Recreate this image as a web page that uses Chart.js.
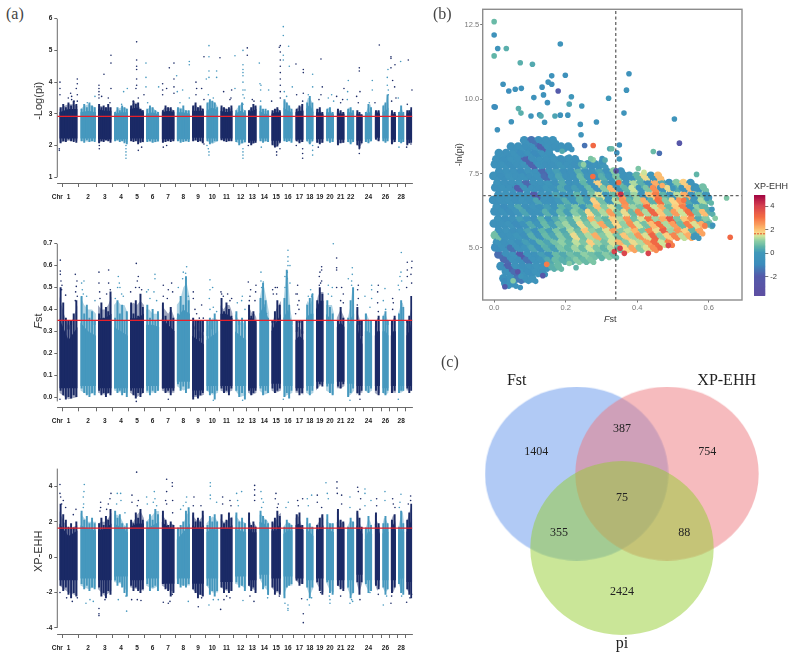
<!DOCTYPE html>
<html>
<head>
<meta charset="utf-8">
<script src="https://cdn.jsdelivr.net/npm/chart.js@4"></script>
<style>
  html, body { margin: 0; padding: 0; background: #fff; }
  body { position: relative; width: 792px; height: 658px; overflow: hidden; }
  .box { position: absolute; }
  .tag { position: absolute; font: 16px "Liberation Serif", serif; color: #444; }
  .lab { position: absolute; font-family: "Liberation Sans", sans-serif; color: #333; white-space: nowrap; }
</style>
</head>
<body>
<div class="box" style="left:28px;top:8px;width:392px;height:200px"><canvas id="piChart"></canvas></div>
<div class="box" style="left:28px;top:233px;width:392px;height:200px"><canvas id="fstChart"></canvas></div>
<div class="box" style="left:28px;top:458px;width:392px;height:200px"><canvas id="xpChart"></canvas></div>
<div class="box" style="left:440px;top:0;width:310px;height:330px"><canvas id="scatterChart"></canvas></div>
<div class="box" style="left:745px;top:185px;width:47px;height:125px"><canvas id="barChart"></canvas></div>
<div class="box" style="left:440px;top:340px;width:352px;height:318px"><canvas id="vennChart"></canvas></div>

<div class="tag" style="left:6px;top:5px">(a)</div>
<div class="tag" style="left:433px;top:5px">(b)</div>
<div class="tag" style="left:441px;top:353px">(c)</div>
<div class="lab" style="left:30px;top:315px;font-size:11px;transform:rotate(-90deg)"><i>F</i>st</div>
<div class="lab" style="left:604px;top:314px;font-size:9px"><i>F</i>st</div>
<div class="lab" style="left:754px;top:181px;font-size:9px">XP-EHH</div>

<script>
// chromosomes, position along the genome axis
const chrNames = ['1','2','3','4','5','6','7','8','9','10','11','12','13','14','15','16','17','18','19','20','21','22','','24','','26','','28',''];
const chrStart = [6,69,122,170,218,266,313,358,404,447,489,533,572,606,642,678,714,746,776,806,838,869,897,922,952,975,1000,1022,1047];
const chrEnd = [61,116,163,212,260,306,352,398,440,483,526,567,598,636,671,706,739,769,799,830,862,891,916,945,968,994,1016,1041,1065];

// -Log(pi)
const piTicks = [1,2,3,4,5,6];
const piCut = 2.92;
const piOuterTop = [[3.15,3.25,3.3,3.3,3.25],[3.15,3.25,3.3,3.25,3.2],[3.25,3.25,3.2,3.2,3.2],[3.05,3.15,3.2,3.2,3.15],[3.2,3.35,3.35,3.15,3.1],[3.1,3.2,3.2,3.1,3.05],[3.1,3.2,3.2,3.15,3.1],[3.15,3.2,3.15,3.1,3.1],[3.2,3.3,3.2,3.2,3.15],[3.3,3.4,3.4,3.35,3.2],[3.2,3.2,3.15,3.15,3.2],[3.1,3.2,3.3,3.15,3.05],[3.1,3.15,3.2,3.25,3.2],[3.2,3.15,3.1,3.1,3.05],[3.05,3.1,3.15,3.15,3.05],[3.4,3.4,3.3,3.2,3.1],[3.1,3.2,3.2,3.25,3.1],[3.3,3.5,3.5,3.4,3.1],[3.1,3.15,3.15,3.05,3.0],[3.1,3.2,3.15,3.05,3.0],[3.1,3.1,3.05,3.05,3.0],[3.1,3.2,3.15,3.1,3.05],[3.05,3.05,3.0,3.0,2.95],[3.0,3.1,3.25,3.3,3.1],[3.05,3.1,3.1,3.1,3.05],[3.2,3.3,3.3,3.6,3.3],[3.05,3.05,3.05,3.0,3.0],[3.0,3.1,3.2,3.1,3.0],[3.05,3.1,3.1,3.15,3.1]];
const piCoreTop = [[3.05,3.15,3.15],[3.05,3.1,3.05],[3.15,3.1,3.1],[3.0,3.05,3.05],[3.15,3.2,3.05],[3.0,3.05,2.98],[3.05,3.1,3.05],[3.05,3.05,3.0],[3.1,3.1,3.1],[3.1,3.2,3.1],[3.1,3.05,3.1],[3.0,3.1,3.0],[3.05,3.1,3.15],[3.1,3.0,3.0],[3.0,3.05,3.05],[3.2,3.1,3.05],[3.05,3.1,3.1],[3.15,3.3,3.05],[3.05,3.05,2.98],[3.05,3.05,2.98],[3.05,3.0,3.0],[3.05,3.05,3.0],[3.0,2.98,2.95],[2.95,3.05,3.05],[3.0,3.05,3.0],[3.05,3.1,3.2],[3.0,3.0,2.98],[2.95,3.05,2.98],[3.0,3.05,3.05]];
const piOuterBot = [[2.1,2.15,2.15],[2.15,2.12,2.15],[2.1,2.15,2.15],[2.15,2.15,2.1],[2.15,2.15,2.1],[2.15,2.1,2.12],[2.1,2.15,2.15],[2.15,2.12,2.15],[2.15,2.15,2.1],[2.15,2.05,2.15],[2.18,2.15,2.15],[2.12,2.05,2.1],[2.1,2.05,2.1],[2.15,2.12,2.15],[2.05,1.95,2.1],[2.15,2.15,2.12],[2.15,2.1,2.12],[2.15,2.05,2.15],[2.1,2.08,2.1],[2.15,2.12,2.12],[2.05,2.08,2.1],[2.12,2.08,2.12],[2.05,1.95,2.08],[2.12,2.1,2.15],[2.2,2.15,2.18],[2.15,2.12,2.15],[2.08,2.1,2.12],[2.12,2.1,2.12],[2.05,2.08,2.1]];
const piCoreBot = [2.22,2.22,2.2,2.2,2.22,2.2,2.2,2.2,2.25,2.22,2.22,2.18,2.15,2.22,2.15,2.22,2.18,2.2,2.2,2.22,2.18,2.2,2.15,2.2,2.25,2.22,2.18,2.2,2.18];
const piColTop = [[3.2,3.3,3.2,3.35,3.25,3.4,3.3],[3.15,3.3,3.2,3.35,3.25,3.2],[3.3,3.2,3.25,3.2,3.3,3.2],[3.05,3.2,3.1,3.25,3.2,3.15],[3.25,3.4,3.3,3.35,3.15,3.1],[3.15,3.25,3.2,3.1,3.05],[3.1,3.25,3.2,3.2,3.1],[3.2,3.15,3.25,3.1,3.1],[3.25,3.35,3.2,3.25,3.15],[3.35,3.45,3.4,3.35,3.2],[3.25,3.2,3.15,3.2,3.25],[3.1,3.25,3.35,3.1],[3.1,3.2,3.3,3.25],[3.25,3.15,3.15,3.1],[3.1,3.15,3.2,3.1],[3.45,3.35,3.25,3.15],[3.15,3.25,3.3],[3.35,3.55,3.35],[3.15,3.2,3.05],[3.15,3.2,3.05],[3.15,3.1,3.05],[3.15,3.2,3.1],[3.1,3.05,2.98],[3.05,3.3,3.2],[3.1,3.1],[3.25,3.35,3.6],[3.1,3.05],[3.05,3.25,3.05],[3.1,3.1,3.2]];
const piColBot = [[2.08,2.15,2.12,2.2,2.15,2.12,2.1],[2.15,2.1,2.18,2.12,2.15,2.12],[2.08,2.15,2.12,2.18,2.15,2.1],[2.15,2.18,2.12,2.15,2.08,2.05],[2.15,2.12,2.15,2.05,2.1,2.12],[2.12,2.15,2.1,2.12,2.15],[2.1,2.12,2.15,2.12,2.15],[2.15,2.1,2.12,2.15,2.12],[2.15,2.18,2.12,2.15,2.08],[2.15,2.05,2.1,2.15,2.15],[2.18,2.15,2.12,2.15,2.15],[2.12,2.02,2.08,2.12],[2.1,2.02,2.08,2.1],[2.15,2.1,2.15,2.12],[2.02,1.95,1.98,2.1],[2.15,2.12,2.15,2.1],[2.15,2.08,2.12],[2.15,2.05,2.15],[2.1,2.05,2.1],[2.15,2.1,2.12],[2.02,2.08,2.1],[2.12,2.05,2.12],[2.02,1.92,2.08],[2.12,2.08,2.15],[2.2,2.15],[2.15,2.1,2.15],[2.05,2.12],[2.12,2.08,2.12],[2.02,2.08,2.1]];
const piOutliers = [[8,4.0],[8,3.8],[8,3.6],[6,1.85],[6,1.9],[60,4.1],[60,3.95],[57,3.8],[60,3.6],[40,3.65],[43,3.55],[33,3.5],[43,3.45],[50,3.4],[60,3.4],[113,3.55],[90,3.35],[125,3.9],[125,3.8],[125,3.7],[125,3.6],[125,3.5],[140,4.25],[161,4.85],[161,4.6],[161,3.8],[133,3.55],[153,3.5],[158,3.35],[126,1.9],[126,2.0],[199,3.7],[210,3.8],[193,3.3],[206,1.6],[206,1.7],[206,1.8],[206,1.9],[206,2.0],[238,5.27],[238,4.7],[238,4.5],[238,4.4],[238,4.1],[238,3.9],[236,3.8],[260,3.6],[228,3.4],[243,3.5],[243,1.85],[253,1.95],[266,4.6],[266,4.15],[266,3.85],[304,3.85],[271,3.35],[316,3.95],[316,3.75],[316,3.6],[336,4.45],[350,4.6],[350,4.1],[350,3.85],[350,3.65],[358,4.2],[328,3.8],[318,1.95],[328,2.0],[396,4.65],[396,4.55],[376,3.75],[360,3.7],[396,3.5],[368,3.35],[440,4.8],[416,4.0],[418,3.8],[416,3.6],[433,3.8],[440,3.45],[440,2.05],[455,5.15],[455,4.8],[455,4.35],[455,4.15],[478,4.35],[478,4.15],[447,4.1],[453,3.6],[468,3.5],[455,1.7],[455,1.8],[453,1.9],[449,2.0],[488,4.77],[499,3.7],[523,3.75],[521,3.5],[518,3.45],[533,4.83],[557,5.0],[557,4.55],[557,4.4],[557,4.3],[557,4.2],[557,4.0],[557,3.75],[557,3.6],[563,3.75],[561,3.5],[533,3.8],[570,4.85],[570,5.08],[557,1.6],[557,1.7],[557,1.8],[557,1.9],[573,2.0],[557,3.3],[585,3.45],[590,3.4],[606,4.6],[608,3.95],[611,3.9],[610,3.75],[634,3.75],[610,3.4],[612,1.95],[669,5.15],[666,5.1],[669,4.95],[669,4.7],[669,4.5],[669,4.3],[669,4.1],[669,3.9],[669,3.7],[669,3.5],[643,3.4],[658,1.7],[658,1.8],[668,1.9],[678,5.75],[678,5.47],[678,4.85],[678,4.7],[694,5.13],[696,4.5],[705,3.85],[681,3.7],[688,3.55],[716,4.57],[718,3.6],[738,4.4],[738,4.3],[738,3.65],[736,3.4],[736,1.6],[736,1.75],[736,1.9],[717,2.0],[766,4.25],[766,3.85],[753,3.6],[766,1.7],[766,1.85],[766,2.0],[791,4.73],[795,3.85],[791,3.6],[785,3.45],[783,1.95],[823,3.6],[813,3.5],[829,3.4],[838,3.55],[860,3.8],[856,3.45],[850,3.35],[873,4.05],[871,3.7],[870,3.45],[906,4.45],[906,4.35],[898,3.55],[908,3.7],[903,3.35],[906,1.75],[906,1.9],[945,4.05],[945,3.75],[936,3.35],[966,5.17],[953,3.35],[992,4.4],[990,4.15],[990,3.9],[993,3.75],[993,3.6],[1001,4.8],[1001,4.75],[1001,4.45],[1006,4.05],[1013,4.55],[1012,3.85],[1003,3.4],[1016,3.5],[1030,4.65],[1023,3.5],[1025,1.95],[1053,4.7],[1064,3.75],[1050,3.3],[1048,1.95],[1061,2.05]];

// Fst
const fstTicks = [0,0.1,0.2,0.3,0.4,0.5,0.6,0.7];
const fstCut = 0.35;
const fstOuterTop = [[.46,.38,.32,.36,.42],[.46,.42,.4,.4,.38],[.42,.4,.4,.42,.46],[.42,.44,.42,.42,.38],[.42,.43,.42,.44,.42],[.4,.4,.38,.38,.38],[.42,.4,.38,.4,.36],[.42,.44,.5,.52,.45],[.34,.32,.3,.3,.28],[.3,.34,.36,.36,.35],[.42,.4,.42,.42,.38],[.38,.36,.34,.34,.32],[.4,.4,.38,.38,.36],[.44,.5,.5,.44,.38],[.32,.36,.4,.42,.44],[.42,.55,.55,.4,.34],[.3,.32,.32,.3,.3],[.42,.44,.42,.44,.46],[.42,.46,.48,.48,.48],[.42,.42,.42,.42,.38],[.36,.38,.4,.38,.36],[.35,.38,.42,.5,.42],[.4,.38,.36,.3,.28],[.38,.38,.36,.34,.34],[.32,.34,.36,.36,.34],[.36,.38,.38,.36,.34],[.34,.34,.36,.36,.36],[.38,.4,.43,.43,.4],[.32,.34,.36,.4,.44]];
const fstCoreTop = [[.36,.26,.32],[.34,.3,.28],[.36,.36,.38],[.32,.3,.28],[.36,.36,.38],[.33,.33,.32],[.36,.33,.3],[.36,.4,.38],[.28,.26,.24],[.26,.28,.3],[.38,.38,.36],[.3,.28,.26],[.36,.36,.34],[.38,.42,.34],[.3,.34,.38],[.36,.4,.32],[.26,.28,.26],[.36,.38,.38],[.4,.44,.44],[.38,.36,.34],[.32,.34,.32],[.3,.36,.38],[.34,.28,.24],[.3,.3,.28],[.28,.3,.3],[.3,.3,.28],[.28,.3,.3],[.3,.36,.34],[.28,.3,.36]];
const fstOuterBot = [[.02,-.01,0],[.03,.01,.02],[.02,.01,.02],[.03,.02,.02],[.02,0,.02],[.02,.02,.03],[.03,.02,.02],[.05,.03,.04],[0,0,.01],[.03,.01,.02],[.03,.02,.03],[.03,0,.01],[.02,.01,.02],[.03,.01,.02],[.03,.02,.03],[0,.01,.02],[.02,.02,.01],[.02,.01,.02],[.03,.05,.06],[.03,.02,.01],[.04,.04,.05],[0,.01,.03],[.01,.02,.02],[.03,.02,.03],[.02,.01,.02],[.02,.01,.02],[.02,.02,.02],[.02,.02,.03],[.03,.03,.03]];
const fstCoreBot = [.04,.05,.04,.04,.04,.05,.04,.07,.03,.05,.05,.05,.04,.05,.06,.05,.04,.05,.07,.06,.07,.06,.05,.05,.05,.04,.05,.05,.05];
const fstColTop = [[.5,.43,.36,.31,.33,.38,.44],[.46,.38,.42,.36,.39,.33],[.38,.43,.36,.41,.39,.48],[.36,.44,.38,.42,.35,.39],[.43,.38,.44,.37,.47,.41],[.42,.36,.4,.35,.39],[.43,.37,.33,.41,.36],[.38,.46,.42,.55,.44],[.36,.31,.34,.27,.3],[.28,.36,.31,.38,.35],[.45,.39,.43,.4,.37],[.39,.33,.36,.31],[.42,.37,.39,.35],[.45,.52,.44,.36],[.34,.39,.44,.42],[.45,.58,.42,.33],[.3,.34,.29],[.42,.45,.47],[.44,.5,.47],[.44,.41,.38],[.35,.41,.36],[.36,.44,.5],[.41,.33,.28],[.38,.35,.33],[.32,.37],[.37,.39,.33],[.33,.37],[.38,.44,.41],[.34,.37,.46]];
const fstColBot = [[.03,.01,-.01,0,-.005,.01,0],[.04,.02,.01,0,.02,.01],[.03,.01,.02,0,.02,.01],[.04,.02,.03,.01,.02,0],[.03,.01,-.005,.02,0,.02],[.03,.01,.03,.02,.03],[.04,.02,.03,.01,.03],[.06,.03,.05,.02,.04],[-.01,.01,-.005,.01,.02],[.03,.01,.02,-.01,.03],[.04,.02,.03,.01,.04],[.03,0,.02,-.01],[.03,.01,.02,.03],[.04,.01,.03,.02],[.04,.02,.03,.04],[0,.02,-.005,.03],[.03,.01,.02],[.03,.01,.03],[.04,.06,.05],[.05,.02,.01],[.05,.04,.06],[0,.02,.04],[.02,.01,.03],[.03,.02,.04],[.03,.01],[.02,.01,.03],[.02,.03],[.02,.03,.03],[.04,.02,.03]];
const fstOutliers = [[9,.625],[9,.575],[9,.56],[11,.53],[14,.51],[13,.49],[25,.465],[54,.56],[59,.53],[57,.505],[55,.48],[60,.46],[54,.44],[80,.53],[73,.52],[75,.49],[88,.46],[78,.47],[113,.44],[125,.57],[125,.52],[127,.48],[154,.58],[154,.52],[159,.49],[148,.47],[128,.45],[183,.55],[181,.5],[188,.5],[193,.47],[198,.46],[174,.45],[186,.52],[237,.61],[243,.55],[240,.53],[220,.48],[235,.5],[246,.5],[253,.49],[293,.56],[293,.54],[273,.49],[268,.48],[290,.48],[278,.45],[298,.44],[318,.51],[343,.52],[333,.49],[346,.48],[318,.46],[330,.45],[388,.595],[378,.57],[385,.565],[363,.5],[376,.54],[386,.54],[393,.46],[408,.48],[408,.45],[433,.42],[413,.4],[418,.38],[438,.36],[426,.36],[458,.535],[466,.5],[458,.49],[456,.45],[468,.41],[478,.39],[458,.4],[491,.48],[493,.47],[511,.47],[518,.44],[498,.46],[523,.45],[555,.46],[553,.44],[540,.43],[563,.4],[573,.525],[596,.51],[580,.49],[578,.46],[595,.48],[576,.44],[593,.44],[611,.57],[611,.53],[618,.525],[613,.5],[623,.42],[628,.38],[646,.49],[654,.5],[660,.5],[648,.47],[658,.47],[692,.67],[692,.64],[692,.62],[692,.6],[698,.6],[683,.55],[690,.57],[683,.5],[698,.52],[690,.54],[721,.51],[716,.47],[720,.47],[725,.44],[721,.42],[725,.4],[715,.38],[760,.49],[763,.46],[753,.46],[766,.47],[793,.595],[793,.58],[788,.57],[786,.55],[793,.53],[786,.51],[790,.52],[828,.7],[813,.51],[825,.5],[813,.47],[823,.46],[838,.635],[838,.59],[838,.58],[838,.5],[853,.5],[858,.47],[850,.44],[858,.43],[885,.59],[885,.56],[883,.53],[873,.54],[883,.51],[903,.51],[901,.49],[903,.45],[900,.42],[943,.51],[943,.49],[923,.46],[943,.45],[938,.41],[963,.51],[961,.48],[961,.43],[963,.39],[983,.495],[978,.44],[985,.4],[1006,.45],[1008,.43],[1006,.4],[1032,.66],[1031,.57],[1028,.55],[1023,.51],[1033,.53],[1026,.49],[1050,.615],[1050,.58],[1050,.55],[1064,.62],[1063,.59],[1061,.56],[1048,.5],[1063,.52],[237,-.02],[333,-.01],[468,-.015],[556,-.015],[678,-.01],[878,-.015],[908,-.01],[1023,-.01],[8,-.01]];

// XP-EHH
const xpTicks = [-4,-2,0,2,4];
const xpCut = 1.64;
const xpOuterTop = [[2.6,2.0,1.6,1.7,1.8],[2.5,2.2,2.0,2.0,2.0],[1.9,2,2,2.2,2.5],[2.4,2.4,2.2,1.8,1.7],[2.0,2.0,2.4,2.6,2.2],[2.0,2.2,2.4,2.6,2.6],[2.4,2.2,1.8,1.9,1.8],[1.5,1.6,1.9,2.4,2.6],[2.4,2.2,2.0,2.2,2.4],[1.9,2.1,2.3,2.2,2.0],[2.2,2.0,2.0,2.2,2.3],[2.4,2.2,2.0,2.0,1.9],[2.3,2.0,1.7,1.9,1.7],[2.4,2.4,2.2,2.1,1.9],[2.0,1.9,2.1,2.4,2.5],[1.7,1.9,2.0,1.9,1.8],[2.2,2.4,2.2,1.8,1.8],[2.0,1.9,1.8,1.7,1.6],[1.8,1.9,2.1,2.4,2.2],[2.2,2.0,1.9,1.9,1.9],[2.6,2.2,1.9,2.0,1.9],[1.7,1.9,2.1,2.0,1.9],[2.5,2.6,2.0,1.7,1.6],[1.5,1.8,2.2,2.0,1.7],[2.4,2.2,2.0,1.8,1.7],[1.8,2.2,2.2,2.0,1.8],[2.0,2.2,2.4,2.2,1.8],[1.6,2.0,2.4,2.6,1.7],[2.0,2.2,2.5,2.8,2.9]];
const xpCoreTop = [[1.9,1.2,1.5],[1.8,1.6,1.5],[1.5,1.6,1.9],[1.9,1.7,1.4],[1.7,1.9,1.9],[1.6,1.8,2.0],[2.0,1.7,1.6],[1.0,1.4,1.9],[1.8,1.6,1.8],[1.4,1.6,1.5],[1.7,1.6,1.8],[1.6,1.5,1.4],[1.7,1.4,1.4],[2.0,1.9,1.5],[1.5,1.5,2.0],[1.3,1.5,1.5],[1.8,1.9,1.5],[1.6,1.4,1.2],[1.5,1.6,1.8],[1.7,1.5,1.4],[2.0,1.6,1.6],[1.4,1.7,1.5],[1.8,1.6,1.3],[1.0,1.5,1.3],[1.9,1.7,1.3],[1.3,1.7,1.4],[1.7,1.9,1.5],[1.2,1.6,1.4],[1.4,1.8,2.2]];
const xpOuterBot = [[-1.6,-2.0,-2.2],[-1.6,-1.8,-1.7],[-1.8,-2.2,-1.9],[-1.4,-1.5,-2.0],[-1.7,-1.8,-1.9],[-1.6,-1.8,-1.6],[-1.6,-1.8,-2.0],[-1.5,-1.6,-1.6],[-1.8,-2.1,-2.2],[-1.6,-2.0,-2.0],[-1.7,-1.9,-1.9],[-1.5,-1.6,-1.8],[-1.6,-1.8,-1.9],[-1.2,-1.7,-2.0],[-1.7,-2.0,-2.0],[-2.2,-1.6,-1.6],[-1.3,-1.5,-1.5],[-1.6,-2.2,-1.7],[-1.4,-1.8,-2.0],[-1.4,-1.9,-2.0],[-1.6,-1.7,-1.8],[-1.7,-2.2,-2.0],[-1.4,-2.0,-1.4],[-1.5,-1.9,-1.9],[-1.5,-1.9,-1.6],[-1.7,-2.0,-1.8],[-1.8,-2.0,-1.6],[-1.4,-1.9,-2.0],[-1.8,-2.0,-2.2]];
const xpCoreBot = [-1.3,-1.2,-1.3,-1.1,-1.3,-1.2,-1.5,-1.2,-1.5,-1.2,-1.4,-1.1,-1.3,-1.0,-1.2,-1.1,-1.2,-1.3,-1.2,-1.3,-1.3,-1.3,-1.0,-1.3,-1.3,-1.3,-1.3,-1.2,-1.4];
const xpColTop = [[3,2.4,2.1,1.7,1.9,1.6,2.0],[2.6,2.1,2.3,1.9,2.2,1.9],[1.9,2.2,1.8,2.3,2.1,2.7],[2.6,2.2,2.4,1.9,1.7,1.9],[2.1,1.9,2.5,2.2,2.7,2.1],[2.0,2.4,2.1,2.7,2.4],[2.6,2.1,1.8,2.0,1.8],[1.5,1.8,2.0,2.6,2.8],[2.5,2.0,2.2,2.0,2.6],[1.8,2.3,2.0,2.4,2.0],[2.4,1.9,2.1,2.5,2.2],[2.5,2.0,2.2,1.9],[2.5,1.8,2.0,1.7],[2.6,2.3,2.1,1.9],[2.0,2.2,2.6,2.3],[1.7,2.1,1.9,1.8],[2.4,2.5,1.8],[2.2,1.9,1.7],[1.8,2.2,2.4],[2.4,1.9,1.9],[2.7,2.1,2.0],[1.7,2.2,2.0],[2.6,2.2,1.7],[1.6,2.3,1.8],[2.5,1.9],[1.9,2.3,1.9],[2.1,2.4],[1.7,2.6,1.9],[2.1,2.5,3.0]];
const xpColBot = [[-1.6,-1.9,-1.7,-2.1,-2.3,-2.0,-2.2],[-1.5,-1.8,-1.6,-1.9,-1.7,-1.8],[-1.7,-2.2,-2.0,-2.3,-1.9,-2.1],[-1.3,-1.6,-1.4,-1.7,-2.0,-2.2],[-1.6,-1.9,-1.7,-1.9,-2.0,-1.8],[-1.5,-1.9,-1.7,-1.6,-1.9],[-1.5,-1.8,-1.9,-2.2,-2.0],[-1.5,-1.7,-1.6,-1.7,-1.5],[-1.8,-2.0,-2.3,-2.1,-2.2],[-1.6,-2.1,-1.9,-2.2,-1.9],[-1.7,-2.0,-1.8,-2.0,-1.9],[-1.4,-1.7,-1.6,-1.9],[-1.6,-1.9,-1.7,-2.0],[-1.2,-1.8,-1.6,-2.1],[-1.7,-2.1,-1.9,-2.1],[-2.3,-1.7,-1.6,-1.5],[-1.3,-1.6,-1.5],[-1.7,-2.3,-1.7],[-1.4,-1.9,-2.1],[-1.4,-2.0,-2.1],[-1.6,-1.8,-1.9],[-1.7,-2.3,-2.0],[-1.4,-2.1,-1.4],[-1.5,-2.0,-1.9],[-1.6,-1.8],[-1.7,-2.1,-1.8],[-2.0,-1.7],[-1.5,-2.0,-2.1],[-1.8,-2.1,-2.3]];
const xpOutliers = [[8,4.1],[8,3.6],[10,3.4],[18,3.2],[13,3.0],[25,2.8],[56,2.7],[48,2.4],[8,-2.0],[28,-2.3],[45,-2.5],[60,-2.3],[81,4.1],[80,3.7],[78,3.4],[79,3.0],[78,2.8],[86,-2.6],[98,-2.4],[108,-2.5],[130,3.1],[130,2.8],[128,2.6],[161,3.6],[158,3.3],[153,3.0],[148,2.7],[125,-2.9],[125,-3.2],[125,-3.3],[143,-2.4],[180,3.6],[190,3.6],[191,3.2],[178,3.0],[203,2.5],[208,-3.05],[183,-2.4],[206,-2.2],[238,4.8],[224,3.5],[224,3.1],[243,3.2],[240,2.9],[223,-2.4],[240,-2.4],[251,-2.45],[268,3.4],[291,3.7],[293,3.3],[270,3.0],[288,3.1],[298,2.9],[328,4.4],[345,4.2],[345,4.0],[328,3.7],[325,3.2],[328,3.0],[346,3.2],[346,2.5],[318,-2.55],[345,-2.1],[338,-2.5],[333,-2.6],[388,3.4],[386,3.1],[370,2.7],[378,2.9],[393,-2.5],[410,3.4],[408,2.9],[431,2.9],[423,-2.8],[433,-2.3],[459,4.2],[459,4.0],[459,3.5],[459,3.3],[478,3.1],[455,-2.7],[468,-2.4],[483,-2.4],[496,3.4],[496,3.0],[518,3.2],[521,2.9],[490,-2.95],[500,-2.4],[518,-2.3],[508,-2.2],[538,3.6],[553,3.7],[541,3.2],[543,2.9],[557,-2.45],[592,4.05],[592,3.8],[592,3.5],[592,3.2],[590,-2.5],[578,-2.2],[611,3.7],[613,3.3],[618,3.1],[613,2.8],[631,-2.3],[633,-2.1],[656,3.6],[654,3.3],[663,3.0],[660,2.8],[666,-2.2],[693,3.1],[686,2.8],[683,-2.6],[692,-2.7],[692,-2.9],[692,-3.0],[721,3.2],[736,3.3],[723,2.9],[733,-2.35],[738,-3.2],[738,-3.7],[763,3.5],[750,3.3],[753,2.9],[756,-2.7],[763,-2.3],[750,-2.4],[780,3.5],[780,3.1],[793,2.8],[790,-2.0],[806,4.2],[810,3.6],[813,3.3],[818,-2.4],[818,-2.6],[816,-2.2],[839,4.25],[839,3.9],[840,3.6],[853,3.5],[853,3.0],[850,-2.2],[878,3.4],[878,2.8],[883,-2.4],[878,-2.6],[886,-2.5],[901,3.95],[903,3.7],[910,3.3],[908,2.7],[908,-2.4],[923,3.85],[923,3.6],[941,3.2],[923,2.9],[938,-2.0],[958,3.3],[958,2.9],[963,-2.1],[983,3.7],[983,3.2],[978,-2.7],[988,-2.2],[1006,3.3],[1008,3.0],[1013,2.8],[1001,-2.6],[1003,-2.2],[1031,3.55],[1028,3.1],[1026,2.8],[1033,-2.2],[1060,3.45],[1060,3.2],[1053,3.0],[1048,-2.55],[1058,-2.3],[1063,-2.1]];

// panel b: cloud binned into rows, each cell holds the XP-EHH seen there
const cloudStep = 0.02;
const cloudY = [8.62,8.41,8.19,7.98,7.81,7.57,7.42,7.18,7.03,6.79,6.61,6.38,6.23,5.97,5.82,5.58,5.43,5.19,5.02,4.78,4.62,4.39,4.21,3.98,3.82];
const cloudFst = [.084,.047,.013,.006,.002,.014,-.002,.009,.003,.012,-.003,.007,.001,.011,-.001,.013,.002,.008,.003,.012,.028,.018,.033,.026,.031];
const cloudXP = [
  [-.5,-1.5,-.6,-.5,-.4],
  [-.6,-.5,-.7,-.5,-1.8,-.4,-.5,-.4,-.5],
  [-.5,-.6,-.4,-.8,-.5,-1,-.4,-.5],
  [-.5,-.7,-.4,-.5,-1.8,-.6,-.4,-.5,-.3,-.6,-.4,-.5],
  [-.5,-.4,-.7,-.5,-.3,-1.8,-.4,-.6,-.5,-.2,-.4,-.6,.3,-.5,-.4,-.1],
  [-.6,-.4,-.5,-.8,-.3,-.5,-1.7,-.4,.1,-.6,-.5,.4,-.4,-.3,.2,-.5,.9,-.4],
  [-.5,-.7,-.3,-.5,-.4,-.6,-.5,-1.6,-.3,.2,-.5,-.4,.6,-.3,-.5,.4,-.2,.8,-.4,-.3,.5,1.6,-.2,2.0],
  [-.4,-.6,-.5,-.3,-1.7,-.5,-.4,-.2,-.6,.3,-.5,-.4,.5,-.3,1.8,.2,-.4,.6,-.3,1.2,.4,-.5,2.2,.3,-.4,.9,1.8,-.3],
  [-.6,-.4,-.5,-1.9,-.3,-.5,-.6,-.2,-.4,.3,-.5,.1,-.3,.6,-.4,.9,2.1,-.2,.5,1.4,-.3,.8,2.6,-.4,1.6,.3,-.3,2.0,-.5,.7],
  [-.5,-.3,-.7,-.5,-.4,-2,-.3,-.5,.2,-.4,-.1,.5,-.3,.7,1.5,-.2,.6,2.4,.3,1.1,-.4,1.9,2.8,.5,-.3,1.3,2.2,-.4,.8,-.2],
  [-.7,-.5,-.4,-.6,-.3,-.5,.2,-.4,-.5,-.1,.4,-.3,.5,.1,1.8,.7,-.2,1.3,2.6,.6,1.1,2.2,.4,3.0,.9,1.7,2.5,.3,-.2,1.2,.5],
  [-.5,-.8,-.4,.3,-.6,-.3,-.5,.1,-.4,.5,.2,.8,-.1,.6,2.0,.9,1.5,.4,2.5,1.1,.7,3.1,1.4,2.2,.6,1.8,2.8,-.1,1.0,.5],
  [-.6,-.4,-.7,-.3,.2,-.5,-.4,.4,-.2,.6,.1,.9,.5,1.7,.7,1.2,2.4,.8,1.6,.6,2.7,1.2,3.2,1.9,.9,2.4,1.4,3.0,.7,2.0,.4],
  [-.4,-.7,-.5,.1,-.3,-.6,.5,-.2,.3,.8,.4,1.3,.6,2.1,.9,.5,1.8,1.2,2.5,.7,1.5,2.9,1.1,2.2,3.4,.8,1.9,2.6,.3,.9],
  [-.6,-.5,-.3,-.8,-.4,.3,-.2,.6,.1,.7,1.1,.4,1.6,.8,1.3,2.3,.6,1.7,1.0,2.6,1.4,.7,2.0,3.0,1.2,2.4,.6,2.8,1.5,2.2,.4],
  [-.5,-.3,-.6,-.4,.2,-.5,.5,.1,.8,.3,1.2,.6,1.9,1.0,.7,1.5,2.4,.9,1.3,2.1,.8,2.7,1.6,3.3,1.1,2.5,1.8,.5,2.3],
  [.7,-.5,-.4,-.2,-.6,.4,-.3,.6,.2,.9,.4,1.6,.7,1.2,2.2,.9,1.4,.7,1.9,1.1,2.5,1.5,3.2,1.0,1.8,2.7,1.3,2.2,-.1],
  [-.4,-.6,-.3,-.7,.1,-.4,.5,.2,.7,1.0,.5,1.3,.8,1.8,1.1,.7,1.5,2.1,.9,1.6,1.2,2.4,3.1,1.4,2.8],
  [-.8,-.5,-1.5,-.4,-.3,.2,-.5,.4,.1,.8,.5,1.1,.6,1.4,.8,.5,1.2,.7,1.7,2.3,.9,1.5,2.6],
  [-1.6,-.6,-.4,-2,-.3,-.5,.1,-.4,.6,.3,.7,.5,1.0,.7,.5,.9,.6],
  [-1.7,-.5,-.7,-1.5,-.4,-.3,.3,.6,.4,.5,.9,.6,.8],
  [-.6,-1.8,-.4,-.7,-.5,-.3,-.4,.4,.6],
  [-.5,-1.6,-.4,-.7,-.3,-.6],
  [-.6,-.5,-1.4,-.4,-.3],
  [-.5,-.4]
];
// single points read one by one: Fst, -ln(pi), XP-EHH
const loneFst = [0,0,.01,.034,0,.073,.107,.185,.377,.37,.32,.025,.041,.059,.076,.111,.134,.151,.161,.161,.199,.179,.138,.216,.149,.21,.245,0,.003,.068,.075,.103,.127,.131,.17,.185,.206,.141,.048,.009,.241,.286,.363,.504,.518,.243,.277,.253,.35,.323,.329,.343,.445,.462,.35,.403,.419,.566,.277,.302,.341,.276,.66,.65,.618,.611,.589,.431,.464,.487,.557,.136,.147,.073,.03,.066,.075,.229,.053,.028,.301,.21,.352,.336,.364,.354,.348,.557,.566,.595,.609,.19,.21,.25,.27,.3,.31,.47,.5,.53,.58];
const lonePi = [12.6,12.15,11.7,11.7,11.45,11.22,11.17,11.85,10.85,10.3,10.03,10.5,10.27,10.33,10.36,10.05,10.4,10.57,10.5,10.78,10.8,10.27,10.14,10.08,9.88,9.83,9.77,9.74,9.73,9.68,9.53,9.43,9.47,9.43,9.43,9.46,9.46,9.22,9.24,8.97,9.15,9.23,9.53,9.33,8.52,8.8,8.44,8.44,8.46,8.33,8.33,8.2,8.24,8.18,7.99,7.67,7.54,7.47,7.96,8.0,7.59,7.4,5.36,6.68,6.0,5.76,5.75,4.82,5,5.08,5.36,4.07,4.45,3.67,3.7,4.2,4.05,4.34,3.9,3.9,4.65,4.48,4.99,4.88,4.82,6.8,7.2,7.0,7.0,6.67,6.3,8.25,8.05,7.8,8.0,7.9,7.95,7.1,7.0,6.6,6.4];
const loneXP = [.6,-.5,-.3,.4,.5,.4,.3,-.3,-.5,-.3,0,-.5,-.8,-.5,-.5,-.5,-.7,-.5,-.6,-.5,-.6,-2,-.5,-.2,-.7,.2,-.2,-.8,-.8,.4,.4,-.3,-.2,.3,.2,-.4,-.3,-.3,-.5,-.6,-.3,-.5,-.3,-.3,-2.5,-.3,3.1,-1.5,-.7,.3,.6,-.6,.6,-1.6,-.2,.8,1.4,.5,1.0,-.4,-2.8,3,3.1,.8,.9,-.3,2.8,3.9,3.2,3.8,-.2,-2.5,2.8,-.5,-2,-2.8,-.2,.5,.9,-1,.5,.9,4,3.9,3.8,4.2,3,-.4,-.3,-.3,-.2,.3,-.3,1.0,.8,-.5,.3,2.2,-.2,2.9,.5];
const fstCutB = 0.34;
const piCutB = 6.76;
const scatterXTicks = [0,0.2,0.4,0.6];
const scatterYTicks = [5,7.5,10,12.5];
const barTicks = [-2,0,2,4];
const barMin = -3.65, barMax = 4.94;

// panel c
const vennSets = ['Fst','XP-EHH','pi'];
const vennX = [410,681,546];
const vennY = [401,401,624];
const vennRegionX = [289,546,802,546,357,733,546];
const vennRegionY = [335,268,335,475,579,579,757];
const vennCounts = [1404,387,754,75,355,88,2424];

const DARK = '#1b2a66', LIGHT = '#4698be';
const colorStops = [[-3.65,[94,79,162]],[-2,[84,90,170]],[-1,[60,140,188]],[0,[64,152,186]],[.5,[96,181,168]],[1,[143,207,165]],[1.4,[205,228,155]],[1.7,[250,215,135]],[2.1,[253,180,105]],[3,[244,109,67]],[4,[213,62,79]],[4.94,[158,1,66]]];

function xpColor(v) {
  for (let i = 1; i < colorStops.length; i++) {
    if (v <= colorStops[i][0]) {
      const a = colorStops[i-1], b = colorStops[i];
      const t = Math.max(0, (v - a[0]) / (b[0] - a[0]));
      return `rgb(${a[1].map((c, k) => Math.round(c + (b[1][k] - c) * t)).join(',')})`;
    }
  }
  return 'rgb(158,1,66)';
}

function alongChr(c, vals) {
  const v = vals.length > 1 ? vals : [vals[0], vals[0]];
  return v.map((y, i) => ({ x: chrStart[c] + (chrEnd[c] - chrStart[c]) * i / (v.length - 1), y }));
}

function chrOf(x) {
  let best = 0;
  chrStart.forEach((s, i) => { if (s <= x + 3) best = i; });
  return best;
}

function manhattan(id, d) {
  const datasets = [];
  const band = (data, fill, color) => ({ type: 'line', data, fill, backgroundColor: color, borderWidth: 0, pointRadius: 0, tension: 0, order: 6 });
  const columns = [[], []];
  chrNames.forEach((_, c) => {
    const dark = c % 2 === 0;
    const soft = dark ? 'rgba(27,42,102,0.42)' : 'rgba(70,152,190,0.42)';
    const solid = dark ? DARK : LIGHT;
    datasets.push(band(alongChr(c, d.outerTop[c]), '+1', soft));
    datasets.push(band(alongChr(c, d.outerBot[c]), false, soft));
    datasets.push(band(alongChr(c, d.coreTop[c]), '+1', solid));
    datasets.push(band(alongChr(c, [d.coreBot[c]]), false, solid));
    const len = chrEnd[c] - chrStart[c];
    d.colTop[c].forEach((hi, i) => {
      columns[c % 2].push({ x: chrStart[c] + len * (i + 0.5) / d.colTop[c].length, y: [d.cut, hi] });
    });
    d.colBot[c].forEach((lo, i) => {
      columns[c % 2].push({ x: chrStart[c] + len * (i + 0.5) / d.colBot[c].length, y: [lo, d.cut] });
    });
  });
  datasets.push({ type: 'bar', data: columns[0], backgroundColor: DARK, barThickness: 1.3, grouped: false, order: 4 });
  datasets.push({ type: 'bar', data: columns[1], backgroundColor: LIGHT, barThickness: 1.3, grouped: false, order: 4 });
  const outDark = d.outliers.filter(p => chrOf(p[0]) % 2 === 0).map(p => ({ x: p[0], y: p[1] }));
  const outLight = d.outliers.filter(p => chrOf(p[0]) % 2 === 1).map(p => ({ x: p[0], y: p[1] }));
  [[outDark, DARK], [outLight, LIGHT]].forEach(([pts, col]) => {
    datasets.push({ type: 'scatter', data: pts, pointRadius: 0.8, pointBorderWidth: 0, backgroundColor: col, clip: false, order: 2 });
  });
  datasets.push({ type: 'line', data: [{ x: 0, y: d.cut }, { x: 1065, y: d.cut }], borderColor: '#e8202a', borderWidth: 1.2, pointRadius: 0, order: 0 });
  datasets.push({ type: 'line', data: [{ x: 0, y: d.axisLow }, { x: 0, y: d.axisHigh }], borderColor: '#444', borderWidth: 0.8, pointRadius: 0, clip: false, order: 0 });

  const tickFont = { family: '"Liberation Sans Narrow", "Liberation Sans", sans-serif', size: 6.5, weight: 'bold' };
  new Chart(document.getElementById(id), {
    type: 'line',
    data: { datasets },
    options: {
      responsive: true, maintainAspectRatio: false, animation: false,
      layout: { autoPadding: false, padding: { top: d.padTop, right: 7.7, left: 0, bottom: 0 } },
      plugins: { legend: { display: false }, tooltip: { enabled: false } },
      scales: {
        x: {
          type: 'linear', min: 0, max: 1065, offset: false,
          afterBuildTicks: s => { s.ticks = [{ value: 0 }].concat(chrNames.map((_, c) => ({ value: (chrStart[c] + chrEnd[c]) / 2 }))); },
          afterFit: s => { s.height = d.xHeight; },
          grid: { drawOnChartArea: false, tickLength: 4, color: '#444', lineWidth: 0.8 },
          border: { color: '#444', width: 0.8 },
          ticks: {
            autoSkip: false, maxRotation: 0, padding: 6, color: '#222', font: tickFont,
            callback: (v, i) => i === 0 ? 'Chr' : chrNames[i - 1]
          }
        },
        y: {
          type: 'linear', min: d.min, max: d.max,
          afterBuildTicks: s => { s.ticks = d.ticks.map(value => ({ value })); },
          afterFit: s => { s.width = 29.3; },
          grid: { drawOnChartArea: false, tickLength: 3, color: '#444', lineWidth: 0.8 },
          border: { display: false },
          title: d.title ? { display: true, text: d.title, color: '#333', font: { family: '"Liberation Sans", sans-serif', size: 11 }, padding: { top: 4, bottom: 0 } } : { display: false },
          ticks: { padding: 2, color: '#222', font: tickFont, callback: d.format }
        }
      }
    }
  });
}

manhattan('piChart', { outerTop: piOuterTop, outerBot: piOuterBot, coreTop: piCoreTop, coreBot: piCoreBot, colTop: piColTop, colBot: piColBot, outliers: piOutliers, cut: piCut, ticks: piTicks, min: 0.82, max: 6, axisLow: 1, axisHigh: 6, padTop: 10.7, xHeight: 25, title: '-Log(pi)', format: v => v });
manhattan('fstChart', { outerTop: fstOuterTop, outerBot: fstOuterBot, coreTop: fstCoreTop, coreBot: fstCoreBot, colTop: fstColTop, colBot: fstColBot, outliers: fstOutliers, cut: fstCut, ticks: fstTicks, min: -0.047, max: 0.7, axisLow: -0.02, axisHigh: 0.7, padTop: 10.7, xHeight: 25.7, title: '', format: v => v.toFixed(1) });
manhattan('xpChart', { outerTop: xpOuterTop, outerBot: xpOuterBot, coreTop: xpCoreTop, coreBot: xpCoreBot, colTop: xpColTop, colBot: xpColBot, outliers: xpOutliers, cut: xpCut, ticks: xpTicks, min: -4.34, max: 5, axisLow: -4, axisHigh: 5, padTop: 10.6, xHeight: 24, title: 'XP-EHH', format: v => v });

// panel b
const cloudPts = cloudXP.flatMap((row, r) => row.map((xp, i) => ({ x: cloudFst[r] + cloudStep * i, y: cloudY[r], xp })));
const cloudBack = cloudXP.flatMap((row, r) => row.map((xp, i) => ({ x: cloudFst[r] + cloudStep * i + 0.01, y: cloudY[r] - 0.1, xp })));
const lonePts = loneFst.map((x, i) => ({ x, y: lonePi[i], xp: loneXP[i] }));
const frameBox = {
  id: 'frameBox',
  afterDatasetsDraw(chart) {
    const a = chart.chartArea, ctx = chart.ctx;
    ctx.save();
    ctx.strokeStyle = '#8c8c8c';
    ctx.lineWidth = 1.4;
    ctx.strokeRect(a.left, a.top, a.right - a.left, a.bottom - a.top);
    ctx.restore();
  }
};
const dashed = { type: 'scatter', showLine: true, borderColor: 'rgba(60,60,60,0.8)', borderWidth: 1.3, borderDash: [3, 2.5], pointRadius: 0, order: 0 };
const scatterX = { min: -0.032, max: 0.693 }, scatterY = { min: 3.253, max: 13.015 };
new Chart(document.getElementById('scatterChart'), {
  type: 'scatter',
  data: {
    datasets: [
      { data: cloudPts, pointRadius: 4.3, pointBorderWidth: 0, backgroundColor: cloudPts.map(p => xpColor(p.xp)), order: 5 },
      { data: cloudBack, pointRadius: 2.8, pointBorderWidth: 0, backgroundColor: cloudBack.map(p => xpColor(p.xp)), order: 4 },
      { data: cloudPts, pointRadius: 2.8, pointBorderWidth: 0, backgroundColor: cloudPts.map(p => xpColor(p.xp)), order: 3 },
      { data: lonePts, pointRadius: 2.8, pointBorderWidth: 0, backgroundColor: lonePts.map(p => xpColor(p.xp)), order: 2 },
      { ...dashed, data: [{ x: fstCutB, y: scatterY.min }, { x: fstCutB, y: scatterY.max }] },
      { ...dashed, data: [{ x: scatterX.min, y: piCutB }, { x: scatterX.max, y: piCutB }] }
    ]
  },
  plugins: [frameBox],
  options: {
    responsive: true, maintainAspectRatio: false, animation: false,
    layout: { autoPadding: false, padding: { top: 9.3, right: 8, left: 0, bottom: 0 } },
    plugins: { legend: { display: false }, tooltip: { enabled: false } },
    scales: {
      x: {
        type: 'linear', ...scatterX,
        afterBuildTicks: s => { s.ticks = scatterXTicks.map(value => ({ value })); },
        afterFit: s => { s.height = 30; },
        grid: { drawOnChartArea: false, tickLength: 2.5, color: '#777' },
        border: { display: false },
        ticks: { padding: 1, color: '#777', font: { family: '"Liberation Sans", sans-serif', size: 7.5 }, callback: v => v.toFixed(1) }
      },
      y: {
        type: 'linear', ...scatterY,
        afterBuildTicks: s => { s.ticks = scatterYTicks.map(value => ({ value })); },
        afterFit: s => { s.width = 42.7; },
        grid: { drawOnChartArea: false, tickLength: 2.5, color: '#777' },
        border: { display: false },
        title: { display: true, text: '-ln(pi)', color: '#333', font: { family: '"Liberation Sans", sans-serif', size: 9 }, padding: { top: 14, bottom: 0 } },
        ticks: { padding: 1, color: '#777', font: { family: '"Liberation Sans", sans-serif', size: 7.5 }, callback: v => v.toFixed(1) }
      }
    }
  }
});

// colour bar
const barEdges = [];
for (let v = barMin; v < barMax; v += 0.1) barEdges.push(v);
const cutMark = {
  id: 'cutMark',
  afterDatasetsDraw(chart) {
    const ctx = chart.ctx, a = chart.chartArea, y = chart.scales.y.getPixelForValue(xpCut);
    ctx.save();
    ctx.strokeStyle = '#e8502a';
    ctx.setLineDash([2, 1]);
    ctx.beginPath(); ctx.moveTo(a.left, y); ctx.lineTo(a.right, y); ctx.stroke();
    ctx.restore();
  }
};
new Chart(document.getElementById('barChart'), {
  type: 'bar',
  data: {
    labels: ['XP-EHH'],
    datasets: barEdges.map(v => ({ data: [[v, Math.min(v + 0.12, barMax)]], backgroundColor: xpColor(v + 0.05), grouped: false, barPercentage: 1, categoryPercentage: 1, borderWidth: 0 }))
  },
  plugins: [cutMark],
  options: {
    responsive: true, maintainAspectRatio: false, animation: false,
    layout: { autoPadding: false, padding: { top: 10, left: 9, right: 0, bottom: 14 } },
    plugins: { legend: { display: false }, tooltip: { enabled: false } },
    scales: {
      x: { display: false },
      y: {
        position: 'right', min: barMin, max: barMax,
        afterBuildTicks: s => { s.ticks = barTicks.map(value => ({ value })); },
        afterFit: s => { s.width = 26.7; },
        grid: { drawOnChartArea: false, tickLength: 3, color: '#777' },
        border: { display: false },
        ticks: { padding: 2, color: '#333', font: { family: '"Liberation Sans", sans-serif', size: 7.5 } }
      }
    }
  }
});

// panel c
function ellipseStyle(color) {
  const c = document.createElement('canvas');
  c.width = 184; c.height = 174;
  const g = c.getContext('2d');
  g.fillStyle = color;
  g.beginPath(); g.ellipse(92, 87, 91.7, 87, 0, 0, Math.PI * 2); g.fill();
  return c;
}
const vennColors = ['rgba(100,150,235,0.5)', 'rgba(238,120,125,0.5)', 'rgba(150,205,50,0.5)'];
const vennLabels = {
  id: 'vennLabels',
  afterDatasetsDraw(chart) {
    const ctx = chart.ctx, sx = chart.scales.x, sy = chart.scales.y;
    ctx.save();
    ctx.textAlign = 'center'; ctx.textBaseline = 'middle';
    ctx.fillStyle = '#222';
    ctx.font = '12px "Liberation Serif", serif';
    vennCounts.forEach((n, i) => ctx.fillText(String(n), sx.getPixelForValue(vennRegionX[i]), sy.getPixelForValue(vennRegionY[i])));
    ctx.font = '16px "Liberation Serif", serif';
    ctx.fillText(vennSets[0], sx.getPixelForValue(230), sy.getPixelForValue(123));
    ctx.fillText(vennSets[1], sx.getPixelForValue(860), sy.getPixelForValue(123));
    ctx.fillText(vennSets[2], sx.getPixelForValue(546), sy.getPixelForValue(912));
    ctx.restore();
  }
};
new Chart(document.getElementById('vennChart'), {
  type: 'bubble',
  data: {
    datasets: vennSets.map((name, i) => ({
      label: name,
      data: [{ x: vennX[i], y: vennY[i], r: 90 }],
      pointStyle: ellipseStyle(vennColors[i]),
      clip: false,
      order: 3 - i
    }))
  },
  plugins: [vennLabels],
  options: {
    responsive: true, maintainAspectRatio: false, animation: false,
    layout: { autoPadding: false, padding: 0 },
    plugins: { legend: { display: false }, tooltip: { enabled: false } },
    scales: {
      x: { display: false, min: 0, max: 1056 },
      y: { display: false, min: 0, max: 954, reverse: true }
    }
  }
});
</script>
</body>
</html>
